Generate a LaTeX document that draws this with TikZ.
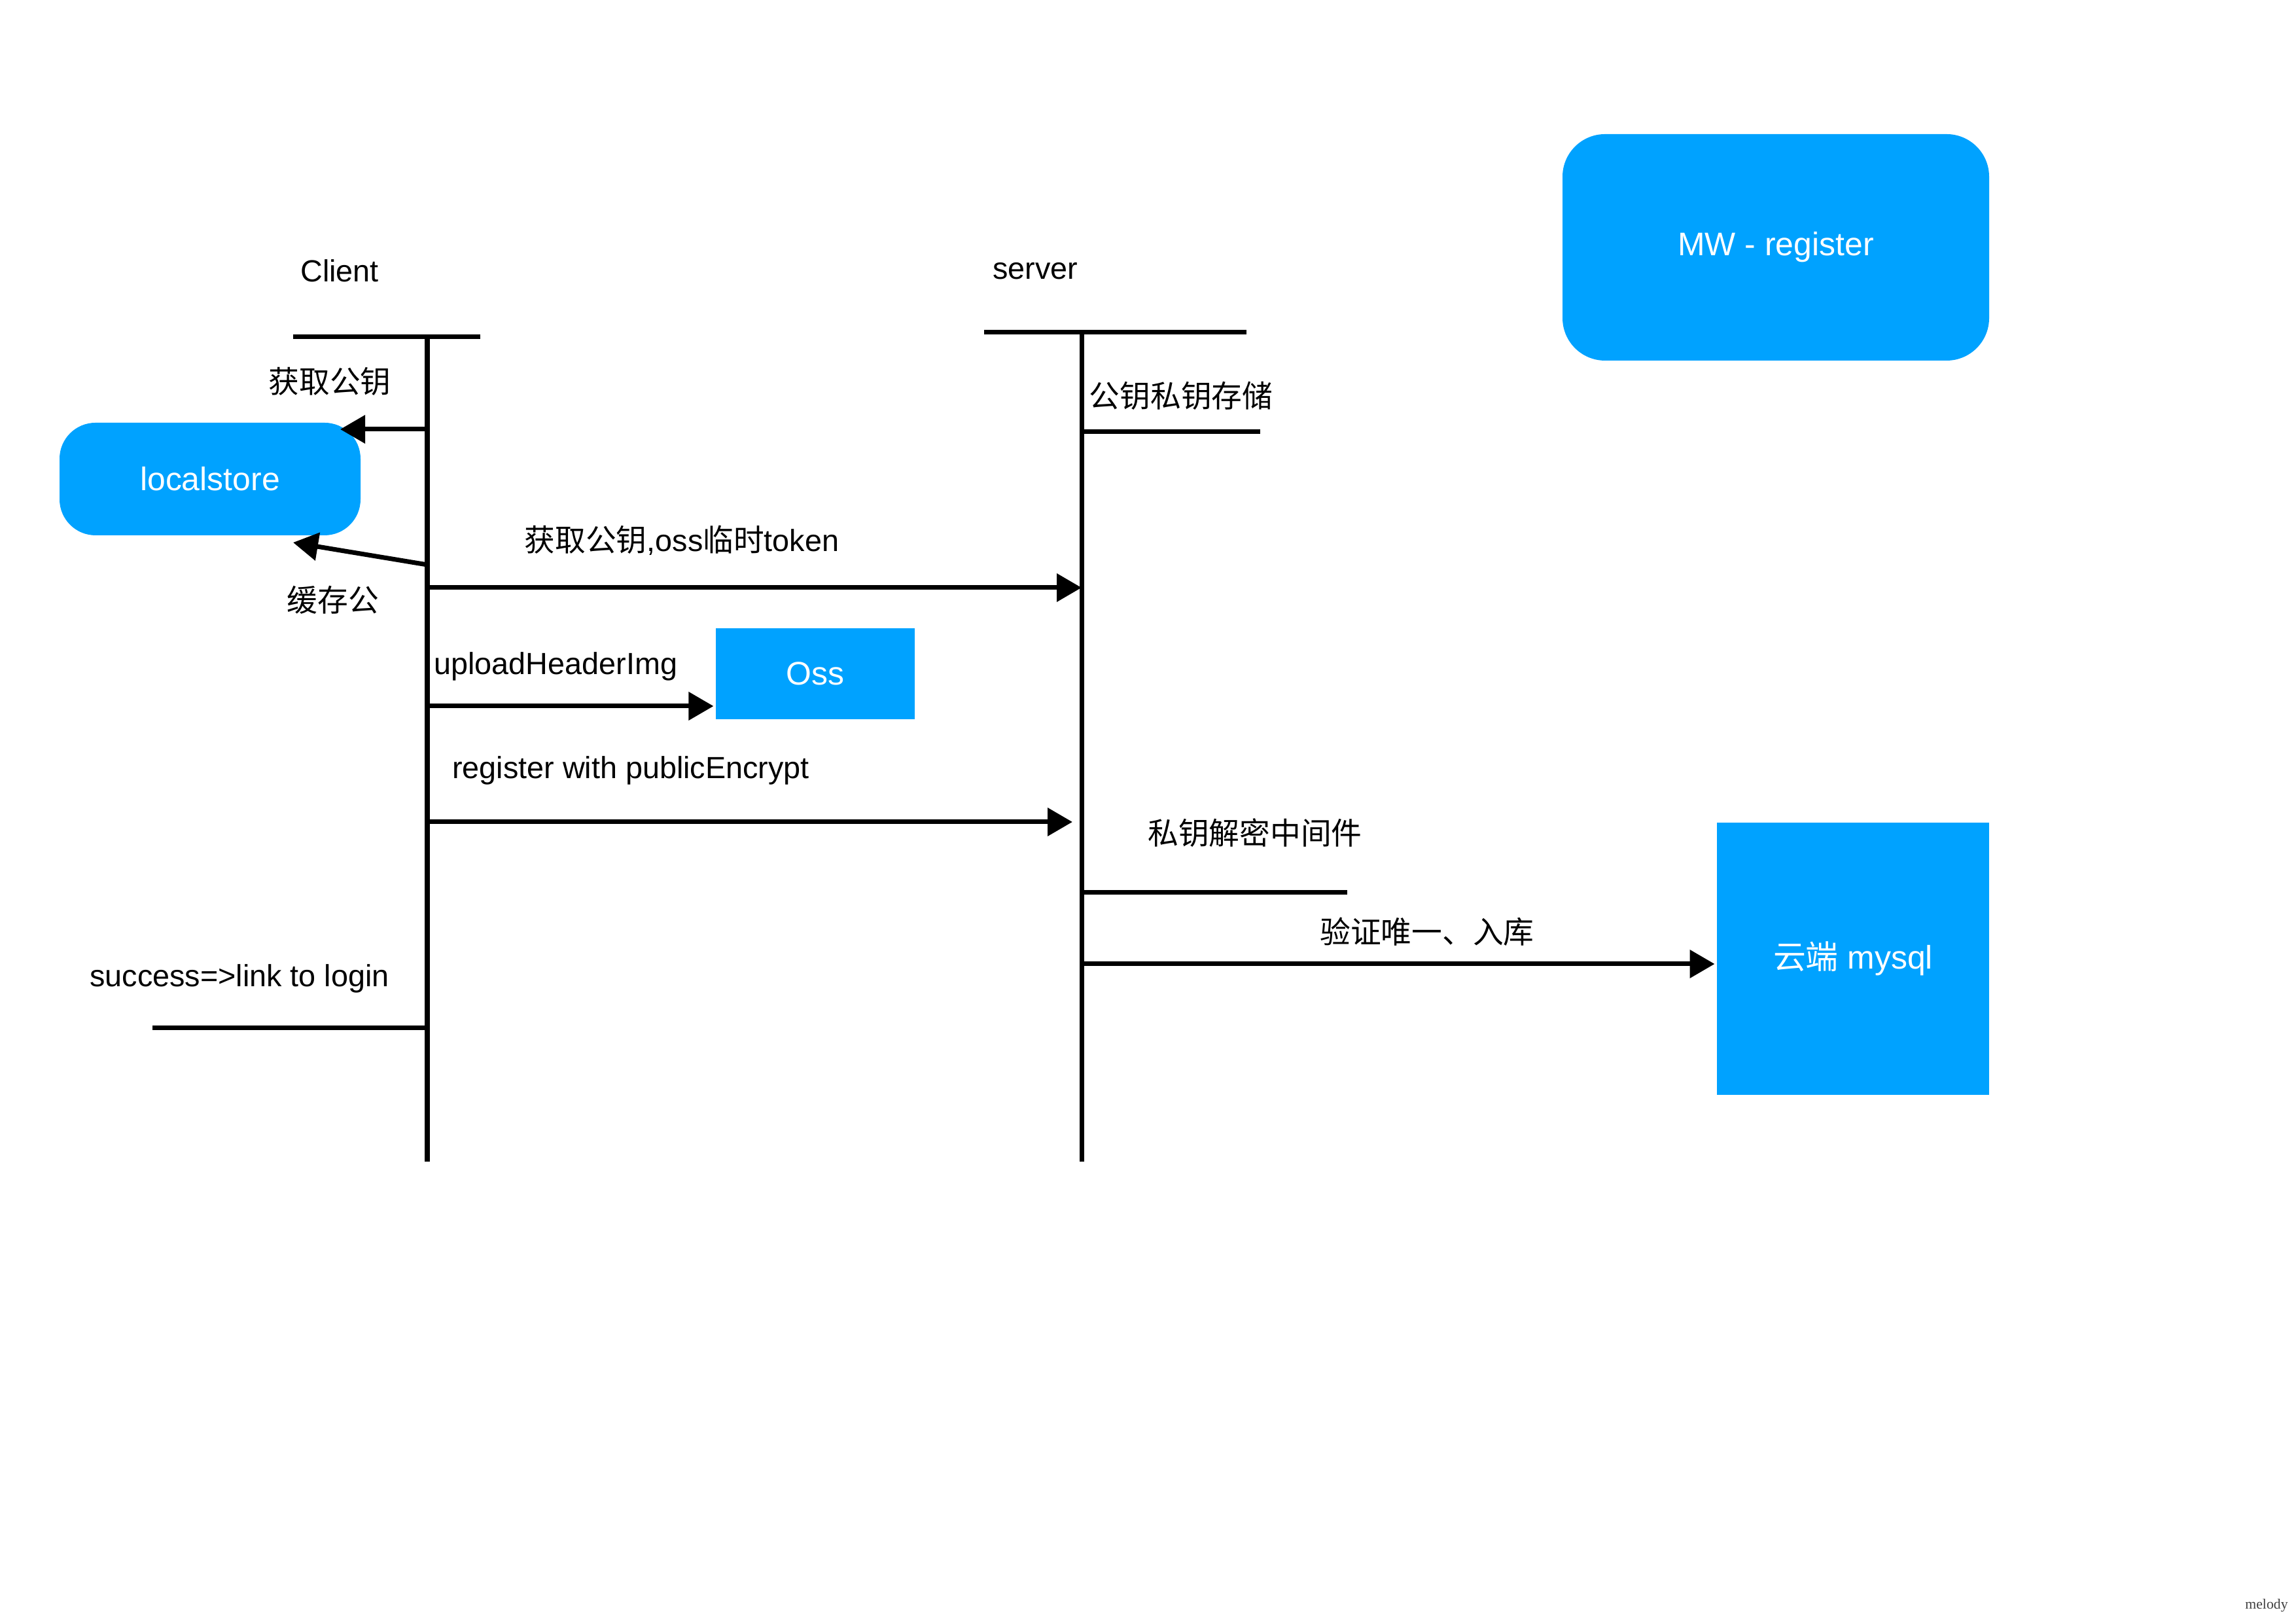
\documentclass[tikz,border=0pt]{standalone}
\usepackage{fontspec}
\setmainfont{Liberation Sans}
\newfontfamily\cjk{Noto Sans CJK SC}
\newfontfamily\sigfont{Liberation Serif}
\usetikzlibrary{arrows.meta,positioning}
\definecolor{kblue}{RGB}{0,162,255}

\begin{document}
\begin{tikzpicture}[->,>={Triangle[length=3.8mm,width=4.2mm]},line width=2pt,
                    font=\fontsize{13.3}{16}\selectfont]
  \tikzstyle{box}=[fill=kblue,text=white,draw=none,inner sep=0pt,
                   font=\fontsize{14.2}{17}\selectfont]
  \tikzstyle{roundbox}=[box,rounded corners=5.5mm]
  \tikzstyle{lbl}=[inner sep=0pt]
  \tikzstyle{bar}=[-]

  \fill[white] (0,0) rectangle (35.09,24.80);
  \useasboundingbox (0,0) rectangle (35.09,24.80);

  \node[lbl] (client) at (5.19,20.66) {Client};
  \node[lbl] (server) at (15.82,20.66) {server};

  \node[roundbox,minimum width=4.60cm,minimum height=1.72cm] (store) at (3.21,17.48) {localstore};
  \node[roundbox,rounded corners=6.5mm,minimum width=6.52cm,minimum height=3.46cm] (mw) at (27.14,21.02) {MW - register};
  \node[box,minimum width=3.04cm,minimum height=1.39cm] (oss) at (12.46,14.505) {Oss};
  \node[box,minimum width=4.16cm,minimum height=4.16cm] (mysql) at (28.32,10.15) {{\cjk 云端} mysql};

  % lifelines
  \coordinate (c0) at (6.53,19.65);
  \coordinate (c1) at (6.53,7.05);
  \coordinate (s0) at (16.53,19.72);
  \coordinate (s1) at (16.53,7.05);
  \draw[bar] (c0) -- (c1);
  \draw[bar] (s0) -- (s1);
  \draw[bar] ([xshift=-2.05cm]c0) -- ([xshift=0.81cm]c0);
  \draw[bar] ([xshift=-1.49cm]s0) -- ([xshift=2.52cm]s0);

  \coordinate (sa) at (16.53,18.20);
  \coordinate (sb) at (16.53,11.16);
  \coordinate (cf) at (6.53,9.09);
  \draw[bar] (sa) -- ++(2.73,0);
  \draw[bar] (sb) -- ++(4.06,0);
  \draw[bar] (cf) -- ++(-4.20,0);

  % messages
  \coordinate (ca) at (6.53,18.24);
  \coordinate (ta) at (5.20,18.24);
  \coordinate (cb) at (6.53,16.17);
  \coordinate (tb) at (4.48,16.51);
  \coordinate (cc) at (6.53,15.82);
  \coordinate (cd) at (6.53,14.01);
  \coordinate (ce) at (6.53,12.24);
  \coordinate (te) at (16.39,12.24);
  \coordinate (sf) at (16.53,10.07);

  \draw (ca) -- (ta);
  \draw (cb) -- (tb);
  \draw (cc) -- (cc -| s0);
  \draw (cd) -- (cd -| oss.west);
  \draw (ce) -- (te);
  \draw (sf) -- (sf -| mysql.west);

  \node[lbl] (getkey)  at (5.04,18.97) {\cjk 获取公钥};
  \node[lbl] (cache)   at (5.09,15.63) {\cjk 缓存公};
  \node[lbl] (gettok)  at (10.42,16.54) {{\cjk 获取公钥},oss{\cjk 临时}token};
  \node[lbl] (keystore) at (18.05,18.75) {\cjk 公钥私钥存储};
  \node[lbl,anchor=west] (upload) at (6.60,14.62) {uploadHeaderImg};
  \node[lbl] (reg)     at (9.64,13.03) {register with publicEncrypt};
  \node[lbl] (decrypt) at (19.18,12.07) {\cjk 私钥解密中间件};
  \node[lbl] (verify)  at (21.81,10.56) {\cjk 验证唯一、入库};
  \node[lbl] (ok)      at (3.66,9.85) {success=>link to login};

  \node[lbl,font=\sigfont\fontsize{6.2}{7}\selectfont,text=black!75] (mark) at (34.64,0.27) {melody};

\end{tikzpicture}
\end{document}
